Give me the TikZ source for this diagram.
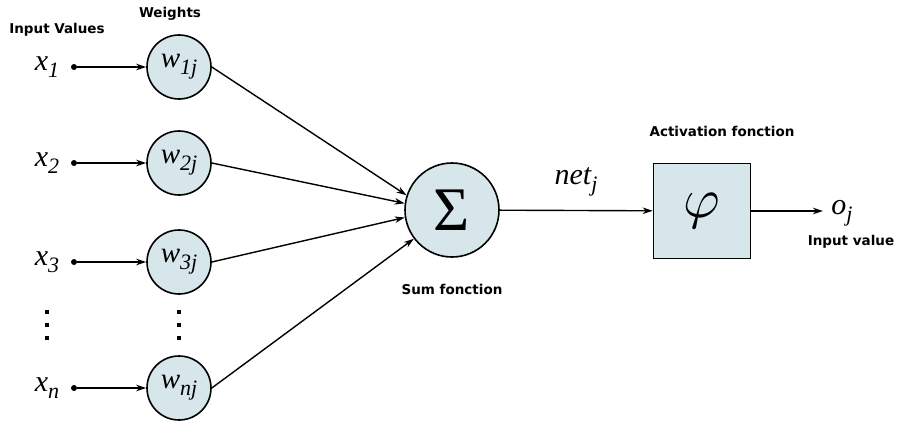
\documentclass[tikz,border=0pt]{standalone}
\usepackage{graphicx}
\usepackage{fontspec}
\usetikzlibrary{arrows.meta}
\newfontfamily\tms{Liberation Serif}
\newfontfamily\lbl{DejaVu Sans}
\definecolor{cfill}{RGB}{215,230,234}
\newcommand{\sv}[2]{{\tms\itshape #1\raisebox{-7pt}{\fontsize{22}{22}\selectfont #2}}}
\begin{document}
\begin{tikzpicture}[x=1pt,y=-1pt,
  wnode/.style={circle,draw,fill=cfill,line width=1.6pt,minimum size=64pt,inner sep=0pt,
    font=\fontsize{29}{30}\selectfont},
  lab/.style={font=\lbl\bfseries\fontsize{13.5}{15}\selectfont,inner sep=0pt},
  var/.style={font=\fontsize{30}{32}\selectfont,inner sep=0pt},
  dotn/.style={circle,fill,inner sep=0pt,minimum size=6pt},
  arr/.style={line width=1.4pt,-{Stealth[length=10pt,width=6.5pt,inset=3pt]}}]
\useasboundingbox (0,0) rectangle (897,423);
% labels
\node[lab] (linput) at (57,30) {Input Values};
\node[lab] (lweights) at (170,14) {Weights};
\node[lab] (lsum) at (452,289) {Sum fonction};
\node[lab] (lact) at (722,131) {Activation fonction};
\node[lab] (lout) at (851,242) {Input value};
% inputs
\foreach \i/\s/\y in {1/1/67,2/2/163,3/3/262,n/n/388}{
  \node[var] (x\i) at (47,\y) {\sv{x}{\s}};
  \node[dotn] (d\i) at (74,\y) {};
  \node[wnode] (w\i) at (179,\y) {\sv{w}{\s j}};
  \draw[arr] (d\i) -- (w\i);
}
% vertical dots
\foreach \xx in {47,179}{
  \foreach \yy in {312,325,338}{
    \fill (\xx-2.3,\yy-2.3) rectangle (\xx+2.3,\yy+2.3);
  }
}
% sum
\node[circle,draw,fill=cfill,line width=1.6pt,minimum size=94pt,inner sep=0pt] (sum) at (452,210)
  {\tms\fontsize{62}{62}\selectfont Σ};
\draw[arr] (w1.east) -- (sum.162);
\draw[arr] (w2.east) -- (sum.172);
\draw[arr] (w3.east) -- (sum.189);
\draw[arr] (wn.east) -- (sum.217);
% activation
\node[rectangle,draw,fill=cfill,line width=1.6pt,minimum width=97pt,minimum height=95pt,inner sep=0pt] (act) at (702,211)
  {\scalebox{5.6}{$\varphi$}};
\draw[arr] (sum) -- (act);
\node[var] (net) at (576,182) {\sv{net}{j}};
\coordinate (oend) at (823,211);
\draw[arr] (act) -- (oend);
\node[var] (oj) at (842,213) {\sv{o}{j}};
\end{tikzpicture}
\end{document}
